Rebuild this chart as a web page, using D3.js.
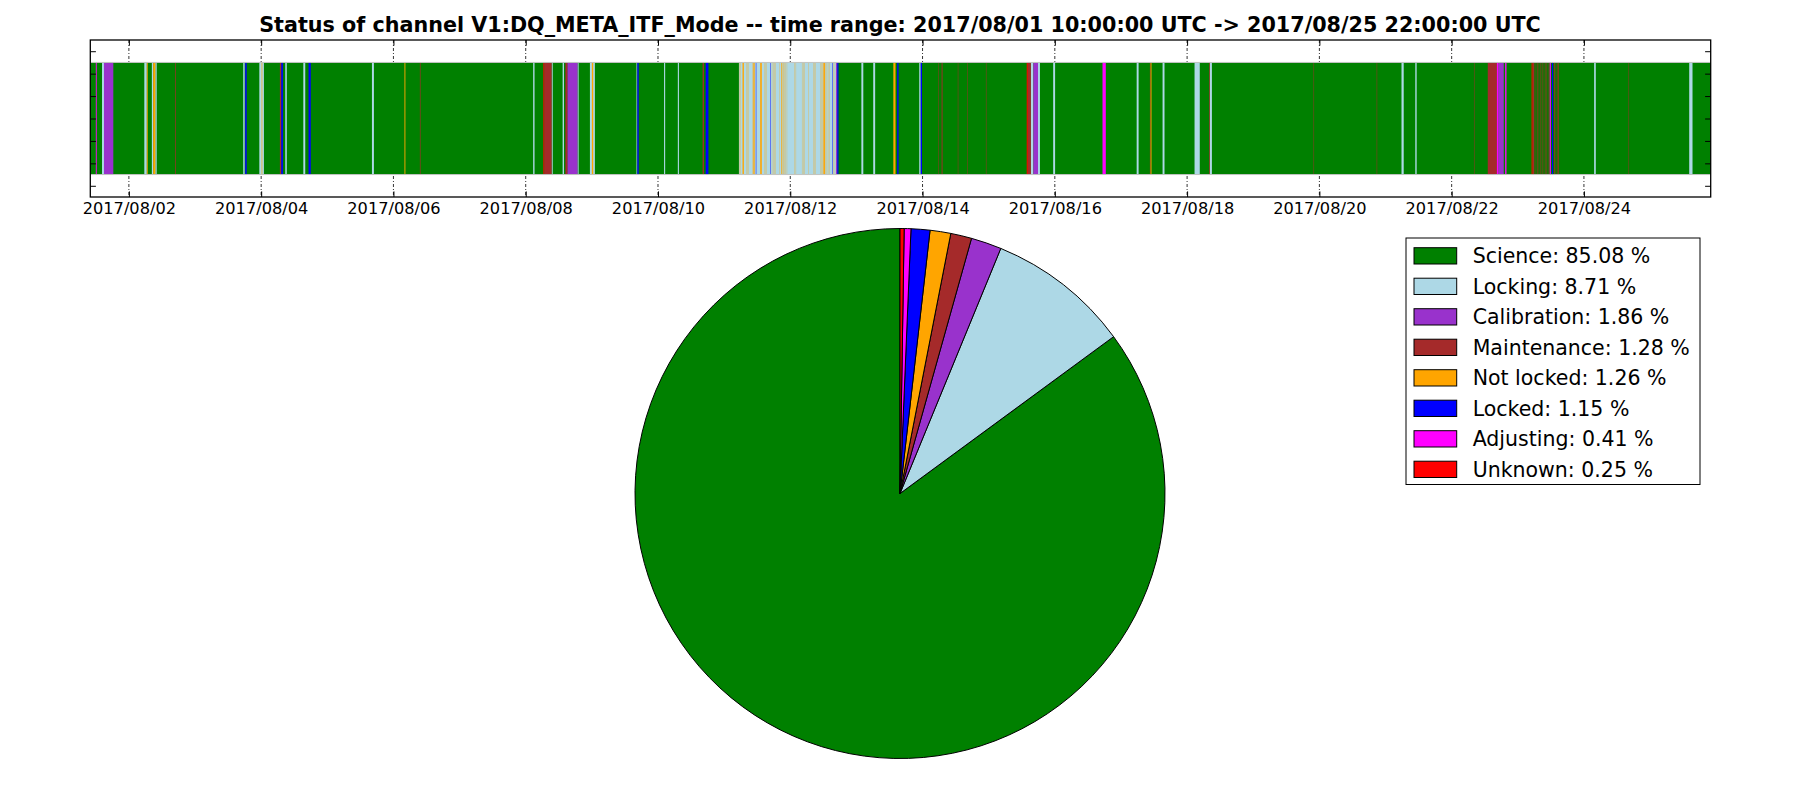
<!DOCTYPE html>
<html><head><meta charset="utf-8">
<script src="https://cdn.jsdelivr.net/npm/d3@7"></script>
<style>
body{margin:0;background:#fff}
svg{display:block}
text{font-family:"DejaVu Sans",sans-serif;fill:#000}
</style>
</head><body>
<svg id="chart" width="1800" height="800"></svg>
<script>
// ---------------- data ----------------
const channelName = "V1:DQ_META_ITF_Mode";
const timeRange = ["08-01 10:00", "08-25 22:00"];
const tickDates = ["08-02 00:00","08-04 00:00","08-06 00:00","08-08 00:00","08-10 00:00","08-12 00:00",
                   "08-14 00:00","08-16 00:00","08-18 00:00","08-20 00:00","08-22 00:00","08-24 00:00"];
const yTicks = [0.5, 1.5, 2.5, 3.5, 4.5, 5.5, 6.5];

const stateNames    = ["Science","Locking","Calibration","Maintenance","Not locked","Locked","Adjusting","Unknown"];
const statePercents = [85.08, 8.71, 1.86, 1.28, 1.26, 1.15, 0.41, 0.25];
const stateColors   = ["#008000","#add8e6","#9932cc","#a52a2a","#ffa500","#0000ff","#ff00ff","#ff0000"];

const scienceSegs = [["08-01 10:00","08-25 22:00"]];
const lockingSegs = [
  ["08-01 14:15","08-01 14:58"],["08-02 05:36","08-02 06:30"],["08-02 08:20","08-02 08:50"],["08-02 09:35","08-02 10:05"],
  ["08-03 17:30","08-03 18:00"],["08-03 23:20","08-04 01:00"],["08-04 08:45","08-04 09:18"],["08-04 15:18","08-04 16:00"],
  ["08-05 16:12","08-05 16:55"],["08-08 02:42","08-08 03:12"],["08-08 09:24","08-08 09:48"],["08-08 13:24","08-08 13:54"],
  ["08-08 18:48","08-08 19:12"],["08-08 23:18","08-09 01:06"],["08-09 16:12","08-09 16:30"],["08-10 02:12","08-10 02:36"],
  ["08-10 07:12","08-10 07:36"],["08-11 05:22","08-12 17:03"],["08-13 01:48","08-13 02:30"],["08-13 06:06","08-13 06:48"],
  ["08-13 22:48","08-13 23:20"],["08-15 15:18","08-15 16:12"],["08-15 17:54","08-15 18:36"],["08-15 23:24","08-16 00:06"],
  ["08-17 05:42","08-17 06:24"],["08-17 15:06","08-17 15:48"],["08-18 02:42","08-18 04:36"],["08-18 08:15","08-18 09:00"],
  ["08-21 05:48","08-21 06:36"],["08-21 10:48","08-21 11:18"],["08-24 03:42","08-24 04:18"],["08-25 14:12","08-25 15:24"]
];
const calibrationSegs = [
  ["08-01 14:58","08-01 18:21"],["08-08 15:06","08-08 18:48"],["08-12 16:35","08-12 17:03"],
  ["08-15 16:12","08-15 17:54"],["08-22 17:00","08-22 18:54"]
];
const maintenanceSegs = [
  ["08-02 16:50","08-02 17:05"],["08-04 06:48","08-04 07:18"],["08-06 09:36","08-06 09:50"],["08-08 06:42","08-08 09:24"],
  ["08-08 14:24","08-08 15:06"],["08-10 16:12","08-10 16:40"],["08-14 05:48","08-14 05:58"],["08-14 06:55","08-14 07:15"],
  ["08-14 12:48","08-14 12:58"],["08-14 16:12","08-14 16:22"],["08-14 23:00","08-14 23:10"],["08-15 14:12","08-15 15:18"],
  ["08-17 10:30","08-17 10:45"],["08-18 08:00","08-18 08:15"],["08-19 21:54","08-19 22:04"],["08-20 20:48","08-20 20:58"],
  ["08-22 08:06","08-22 08:16"],["08-22 13:06","08-22 16:24"],
  ["08-23 05:30","08-23 06:00"],["08-23 06:30","08-23 06:40"],["08-23 07:00","08-23 07:12"],["08-23 07:35","08-23 07:45"],
  ["08-23 08:15","08-23 08:30"],["08-23 08:55","08-23 09:05"],["08-23 09:25","08-23 09:35"],["08-23 09:55","08-23 10:05"],
  ["08-23 10:25","08-23 10:35"],["08-23 10:55","08-23 11:05"],["08-23 11:20","08-23 11:30"],["08-23 13:10","08-23 13:25"],
  ["08-23 13:45","08-23 13:55"],["08-23 14:15","08-23 14:25"],["08-23 14:40","08-23 14:55"],["08-24 16:12","08-24 16:22"]
];
const notLockedSegs = [
  ["08-02 06:30","08-02 06:50"],["08-02 08:50","08-02 09:35"],["08-04 00:10","08-04 00:25"],["08-06 04:00","08-06 04:20"],
  ["08-09 00:00","08-09 00:30"],
  ["08-11 05:30","08-11 05:36"],["08-11 05:50","08-11 05:56"],["08-11 06:40","08-11 07:10"],["08-11 08:05","08-11 08:11"],
  ["08-11 08:30","08-11 08:36"],["08-11 08:55","08-11 09:01"],["08-11 10:15","08-11 10:21"],["08-11 10:35","08-11 11:05"],
  ["08-11 13:05","08-11 13:40"],["08-11 14:30","08-11 14:36"],["08-11 14:55","08-11 15:01"],["08-11 15:20","08-11 15:26"],
  ["08-11 17:20","08-11 17:26"],["08-11 17:45","08-11 17:51"],["08-11 18:10","08-11 18:16"],["08-11 18:30","08-11 18:36"],
  ["08-11 20:05","08-11 20:11"],["08-11 20:40","08-11 20:55"],["08-11 21:15","08-11 21:30"],["08-11 21:55","08-11 22:01"],
  ["08-11 22:20","08-11 22:26"],["08-11 22:45","08-11 22:51"],
  ["08-12 01:35","08-12 01:41"],["08-12 02:00","08-12 02:06"],["08-12 04:15","08-12 04:21"],["08-12 04:40","08-12 04:46"],
  ["08-12 05:05","08-12 05:11"],["08-12 06:40","08-12 06:46"],["08-12 08:15","08-12 08:21"],["08-12 08:40","08-12 08:46"],
  ["08-12 09:05","08-12 09:11"],["08-12 10:55","08-12 11:01"],["08-12 11:20","08-12 11:26"],["08-12 11:45","08-12 11:51"],
  ["08-12 12:00","08-12 12:35"],["08-12 12:50","08-12 12:56"],["08-12 13:15","08-12 13:21"],["08-12 13:40","08-12 13:46"],
  ["08-12 14:05","08-12 14:11"],["08-12 15:45","08-12 15:51"],["08-12 16:10","08-12 16:16"],
  ["08-13 13:24","08-13 14:12"],["08-17 10:45","08-17 11:05"]
];
const lockedSegs = [
  ["08-03 18:12","08-03 18:45"],["08-04 07:18","08-04 07:54"],["08-04 17:12","08-04 18:00"],["08-09 16:30","08-09 17:00"],
  ["08-10 17:18","08-10 18:18"],["08-11 11:30","08-11 11:40"],["08-11 16:45","08-11 16:55"],["08-12 15:15","08-12 15:25"],
  ["08-12 17:03","08-12 17:30"],["08-13 14:48","08-13 15:18"],["08-13 23:20","08-13 23:48"],["08-23 12:24","08-23 12:48"]
];
const adjustingSegs = [
  ["08-01 12:00","08-01 12:20"],["08-16 17:18","08-16 18:30"],["08-22 16:24","08-22 17:00"],
  ["08-22 19:24","08-22 19:54"],["08-23 11:36","08-23 12:00"]
];
const unknownSegs = [["08-08 06:24","08-08 06:42"],["08-15 13:48","08-15 14:12"],["08-23 05:00","08-23 05:24"]];

const segmentsByState = [scienceSegs, lockingSegs, calibrationSegs, maintenanceSegs,
                         notLockedSegs, lockedSegs, adjustingSegs, unknownSegs];

// ---------------- drawing ----------------
const parseT = d3.utcParse("%Y-%m-%d %H:%M");
const T = s => parseT("2017-" + s);
const svg = d3.select("#chart");

const axL = 90.3, axR = 1710.7, axT = 40, axB = 197;
const x = d3.scaleUtc().domain(timeRange.map(T)).range([axL, axR]);
const y = d3.scaleLinear().domain([0, 7]).range([axB, axT]);
const ticks = tickDates.map(T);

// title
const fmtTitle = d3.utcFormat("%Y/%m/%d %H:%M:%S UTC");
svg.append("text").attr("x", 900).attr("y", 32).attr("text-anchor", "middle")
  .style("font-size", "20.7px").style("font-weight", "bold")
  .text(`Status of channel ${channelName} -- time range: ${fmtTitle(T(timeRange[0]))} -> ${fmtTitle(T(timeRange[1]))}`);

// grid (below bars)
svg.append("g").selectAll("line").data(ticks).join("line")
  .attr("x1", d => x(d)).attr("x2", d => x(d)).attr("y1", axT).attr("y2", axB)
  .attr("stroke", "#000").attr("stroke-width", 0.8).attr("stroke-dasharray", "3,2,1,2");

// segments
const segG = svg.append("g");
segmentsByState.forEach((segs, i) => {
  segG.append("g").selectAll("rect").data(segs).join("rect")
    .attr("x", d => x(T(d[0])))
    .attr("width", d => Math.max(0, x(T(d[1])) - x(T(d[0]))))
    .attr("y", y(6)).attr("height", y(1) - y(6))
    .attr("fill", stateColors[i]);
});
// light edge of the bars
svg.append("g").selectAll("line").data([6, 1]).join("line")
  .attr("x1", axL).attr("x2", axR).attr("y1", d => y(d)).attr("y2", d => y(d))
  .attr("stroke", "#c4c4c4").attr("stroke-width", 1);

// axes ticks
const bottom = svg.append("g").attr("transform", `translate(0,${axB})`)
  .call(d3.axisBottom(x).tickValues(ticks).tickSizeInner(-5.6).tickSizeOuter(0).tickPadding(5)
        .tickFormat(d3.utcFormat("%Y/%m/%d")));
svg.append("g").attr("transform", `translate(0,${axT})`)
  .call(d3.axisTop(x).tickValues(ticks).tickSizeInner(-5.6).tickSizeOuter(0).tickFormat(""));
svg.append("g").attr("transform", `translate(${axL},0)`)
  .call(d3.axisLeft(y).tickValues(yTicks).tickSizeInner(-5.6).tickSizeOuter(0).tickFormat(""));
svg.append("g").attr("transform", `translate(${axR},0)`)
  .call(d3.axisRight(y).tickValues(yTicks).tickSizeInner(-5.6).tickSizeOuter(0).tickFormat(""));
svg.selectAll(".domain").remove();
svg.selectAll(".tick line").attr("stroke", "#000").attr("stroke-width", 1);
bottom.selectAll("text").style("font-size", "16.2px").style("font-family", "DejaVu Sans").attr("fill", "#000");

// frame
svg.append("rect").attr("x", axL).attr("y", axT).attr("width", axR - axL).attr("height", axB - axT)
  .attr("fill", "none").attr("stroke", "#000").attr("stroke-width", 1.3);

// pie
const pieG = svg.append("g").attr("transform", "translate(900,493.5)");
const pie = d3.pie().value(d => d).sort(null).startAngle(0).endAngle(-2 * Math.PI);
const arc = d3.arc().innerRadius(0).outerRadius(265);
pieG.selectAll("path").data(pie(statePercents)).join("path")
  .attr("d", arc).attr("fill", (d, i) => stateColors[i])
  .attr("stroke", "#000").attr("stroke-width", 1).attr("stroke-linejoin", "round");

// legend
const lg = svg.append("g");
lg.append("rect").attr("x", 1406).attr("y", 238).attr("width", 294).attr("height", 246.5)
  .attr("fill", "#fff").attr("stroke", "#000").attr("stroke-width", 1);
const items = lg.selectAll("g.item").data(stateNames).join("g").attr("class", "item")
  .attr("transform", (d, i) => `translate(0,${i * 30.5})`);
items.append("rect").attr("x", 1414).attr("y", 247.7).attr("width", 42.7).attr("height", 16.3)
  .attr("fill", (d, i) => stateColors[i]).attr("stroke", "#000").attr("stroke-width", 1);
items.append("text").attr("x", 1472.7).attr("y", 263).style("font-size", "20.5px")
  .text((d, i) => `${d}: ${statePercents[i].toFixed(2)} %`);
</script>
</body></html>
